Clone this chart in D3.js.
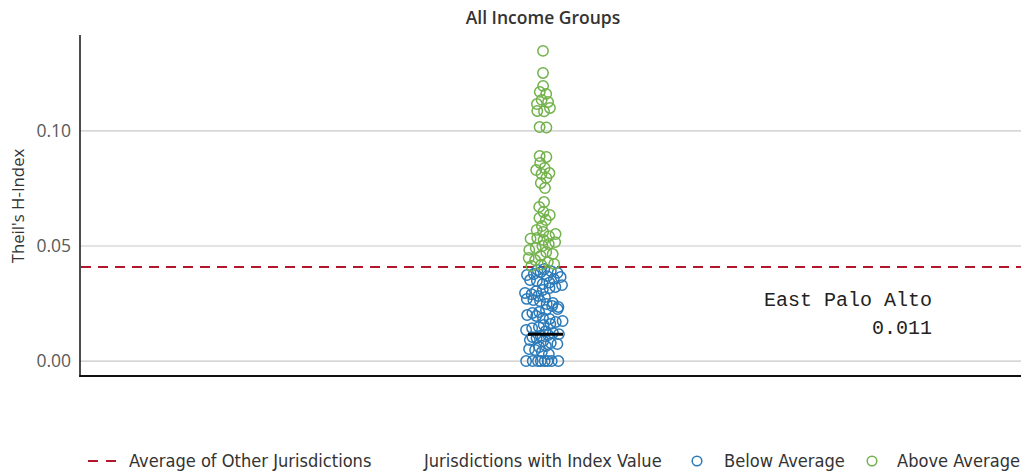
<!DOCTYPE html>
<html>
<head>
<meta charset="utf-8">
<script src="https://cdn.jsdelivr.net/npm/d3@7"></script>
<style>
  body { margin: 0; background: #fff; }
  svg { display: block; }
  .tick-label { font-family: "Open Sans", sans-serif; font-size: 17.5px; fill: #595959; }
  .legend text { font-family: "DejaVu Sans Condensed", "DejaVu Sans", sans-serif; font-size: 18.1px; fill: #333; }
  .anno { font-family: "Liberation Mono", monospace; font-size: 20px; fill: #222; }
</style>
</head>
<body>
<script>
// chart values
var title = "All Income Groups";
var yLabel = "Theil's H-Index";
var yTicks = [0.00, 0.05, 0.10];
var avgOther = 0.0409;
var highlightName = "East Palo Alto";
var highlightValue = 0.011;

// jurisdictions above the average (green)
var aboveValues = [0.1348, 0.1252, 0.1196, 0.1170, 0.1161, 0.1135, 0.1126, 0.1117, 0.1100,
  0.1087, 0.1085, 0.1017, 0.1015, 0.0891, 0.0887, 0.0861, 0.0839, 0.0830, 0.0817, 0.0813,
  0.0796, 0.0774, 0.0752, 0.0691, 0.0670, 0.0648, 0.0635, 0.0622, 0.0613, 0.0587, 0.0570,
  0.0561, 0.0552, 0.0543, 0.0535, 0.0532, 0.0526, 0.0517, 0.0509, 0.0500, 0.0491, 0.0483,
  0.0474, 0.0465, 0.0457, 0.0448, 0.0439, 0.0430, 0.0422, 0.0419, 0.0413];

// jurisdictions below the average (blue)
var belowValues = [0.0400, 0.0396, 0.0391, 0.0386, 0.0383, 0.0378, 0.0374, 0.0369, 0.0365,
  0.0357, 0.0352, 0.0348, 0.0341, 0.0335, 0.0330, 0.0322, 0.0317, 0.0309, 0.0304, 0.0296,
  0.0290, 0.0283, 0.0278, 0.0270, 0.0265, 0.0261, 0.0252, 0.0248, 0.0239, 0.0235, 0.0226,
  0.0222, 0.0213, 0.0209, 0.0200, 0.0196, 0.0187, 0.0183, 0.0174, 0.0170, 0.0161, 0.0157,
  0.0148, 0.0143, 0.0135, 0.0130, 0.0122, 0.0117, 0.0113, 0.0110, 0.0104, 0.0100, 0.0091,
  0.0087, 0.0078, 0.0074, 0.0065, 0.0061, 0.0052, 0.0048, 0.0039, 0.0030,
  0, 0, 0, 0, 0, 0, 0, 0];

var colorBelow = "#2a7ab9",
    colorAbove = "#72b24b",
    colorAvg = "#b2182b";

// dimensions
var width = 1021, height = 474;
var margin = {top: 35, right: 0, bottom: 98, left: 80};

var svg = d3.select("body").append("svg")
    .attr("width", width)
    .attr("height", height);

var y = d3.scaleLinear()
    .domain([-0.0065, 0.1417])
    .range([height - margin.bottom, margin.top]);

var xCenter = 543;

// gridlines
svg.append("g")
  .selectAll("line")
  .data(yTicks)
  .enter().append("line")
    .attr("x1", margin.left)
    .attr("x2", width)
    .attr("y1", function(d) { return y(d); })
    .attr("y2", function(d) { return y(d); })
    .attr("stroke", "#c8c8c8")
    .attr("stroke-width", 1.2);

// y axis labels
var yAxis = d3.axisLeft(y)
    .tickValues(yTicks)
    .tickFormat(d3.format(".2f"))
    .tickSize(0)
    .tickPadding(9);

var yg = svg.append("g")
    .attr("transform", "translate(" + margin.left + ",0)")
    .call(yAxis);
yg.select(".domain").remove();
yg.selectAll("text")
    .attr("class", "tick-label")
    .attr("font-family", null)
    .attr("font-size", null);

// axis lines
svg.append("line")
    .attr("x1", margin.left).attr("x2", margin.left)
    .attr("y1", margin.top).attr("y2", height - margin.bottom + 1)
    .attr("stroke", "#111").attr("stroke-width", 1.5);
svg.append("line")
    .attr("x1", margin.left - 0.75).attr("x2", width)
    .attr("y1", height - margin.bottom).attr("y2", height - margin.bottom)
    .attr("stroke", "#111").attr("stroke-width", 2);

// titles
svg.append("text")
    .attr("x", xCenter)
    .attr("y", 24)
    .attr("text-anchor", "middle")
    .style("font-family", "'Open Sans', sans-serif")
    .style("font-size", "17.5px")
    .style("font-weight", 600)
    .style("fill", "#333")
    .text(title);

svg.append("text")
    .attr("transform", "translate(24,206) rotate(-90)")
    .attr("text-anchor", "middle")
    .style("font-family", "'Open Sans', sans-serif")
    .style("font-size", "16.8px")
    .style("fill", "#333")
    .text(yLabel);

// average line
svg.append("line")
    .attr("x1", margin.left + 1).attr("x2", width)
    .attr("y1", y(avgOther)).attr("y2", y(avgOther))
    .attr("stroke", colorAvg)
    .attr("stroke-width", 2)
    .attr("stroke-dasharray", "10,7");

// beeswarm
var nodes = [];
belowValues.forEach(function(v) { nodes.push({value: v, group: "below"}); });
aboveValues.forEach(function(v) { nodes.push({value: v, group: "above"}); });
nodes.forEach(function(d, i) { d.x = xCenter; d.y = y(d.value); });

var sim = d3.forceSimulation(nodes)
    .force("x", d3.forceX(xCenter).strength(0.06))
    .force("y", d3.forceY(function(d) { return y(d.value); }).strength(1))
    .force("collide", d3.forceCollide(3.4).iterations(3))
    .stop();
for (var i = 0; i < 300; i++) sim.tick();

svg.append("g")
  .selectAll("circle")
  .data(nodes)
  .enter().append("circle")
    .attr("cx", function(d) { return d.x; })
    .attr("cy", function(d) { return y(d.value); })
    .attr("r", 5.2)
    .attr("fill", "none")
    .attr("stroke", function(d) { return d.group === "below" ? colorBelow : colorAbove; })
    .attr("stroke-width", 1.5);

// highlighted jurisdiction
svg.append("line")
    .attr("x1", xCenter - 15).attr("x2", xCenter + 20)
    .attr("y1", y(highlightValue) - 1.5).attr("y2", y(highlightValue) - 1.5)
    .attr("stroke", "#000")
    .attr("stroke-width", 3);

svg.append("text")
    .attr("class", "anno")
    .attr("x", 932).attr("y", 306)
    .attr("text-anchor", "end")
    .text(highlightName);
svg.append("text")
    .attr("class", "anno")
    .attr("x", 932).attr("y", 334)
    .attr("text-anchor", "end")
    .text(d3.format(".3f")(highlightValue));

// legend
var legend = svg.append("g").attr("class", "legend")
    .attr("transform", "translate(0,461)");

legend.append("line")
    .attr("x1", 88).attr("x2", 119)
    .attr("y1", 0).attr("y2", 0)
    .attr("stroke", colorAvg).attr("stroke-width", 2)
    .attr("stroke-dasharray", "10,8");
legend.append("text").attr("x", 129).attr("y", 6).text("Average of Other Jurisdictions");
legend.append("text").attr("x", 424).attr("y", 6).text("Jurisdictions with Index Value");

legend.append("circle").attr("cx", 697).attr("cy", 0).attr("r", 4.8)
    .attr("fill", "none").attr("stroke", colorBelow).attr("stroke-width", 1.5);
legend.append("text").attr("x", 724).attr("y", 6).text("Below Average");
legend.append("circle").attr("cx", 872).attr("cy", 0).attr("r", 4.8)
    .attr("fill", "none").attr("stroke", colorAbove).attr("stroke-width", 1.5);
legend.append("text").attr("x", 897).attr("y", 6).text("Above Average");
</script>
</body>
</html>
